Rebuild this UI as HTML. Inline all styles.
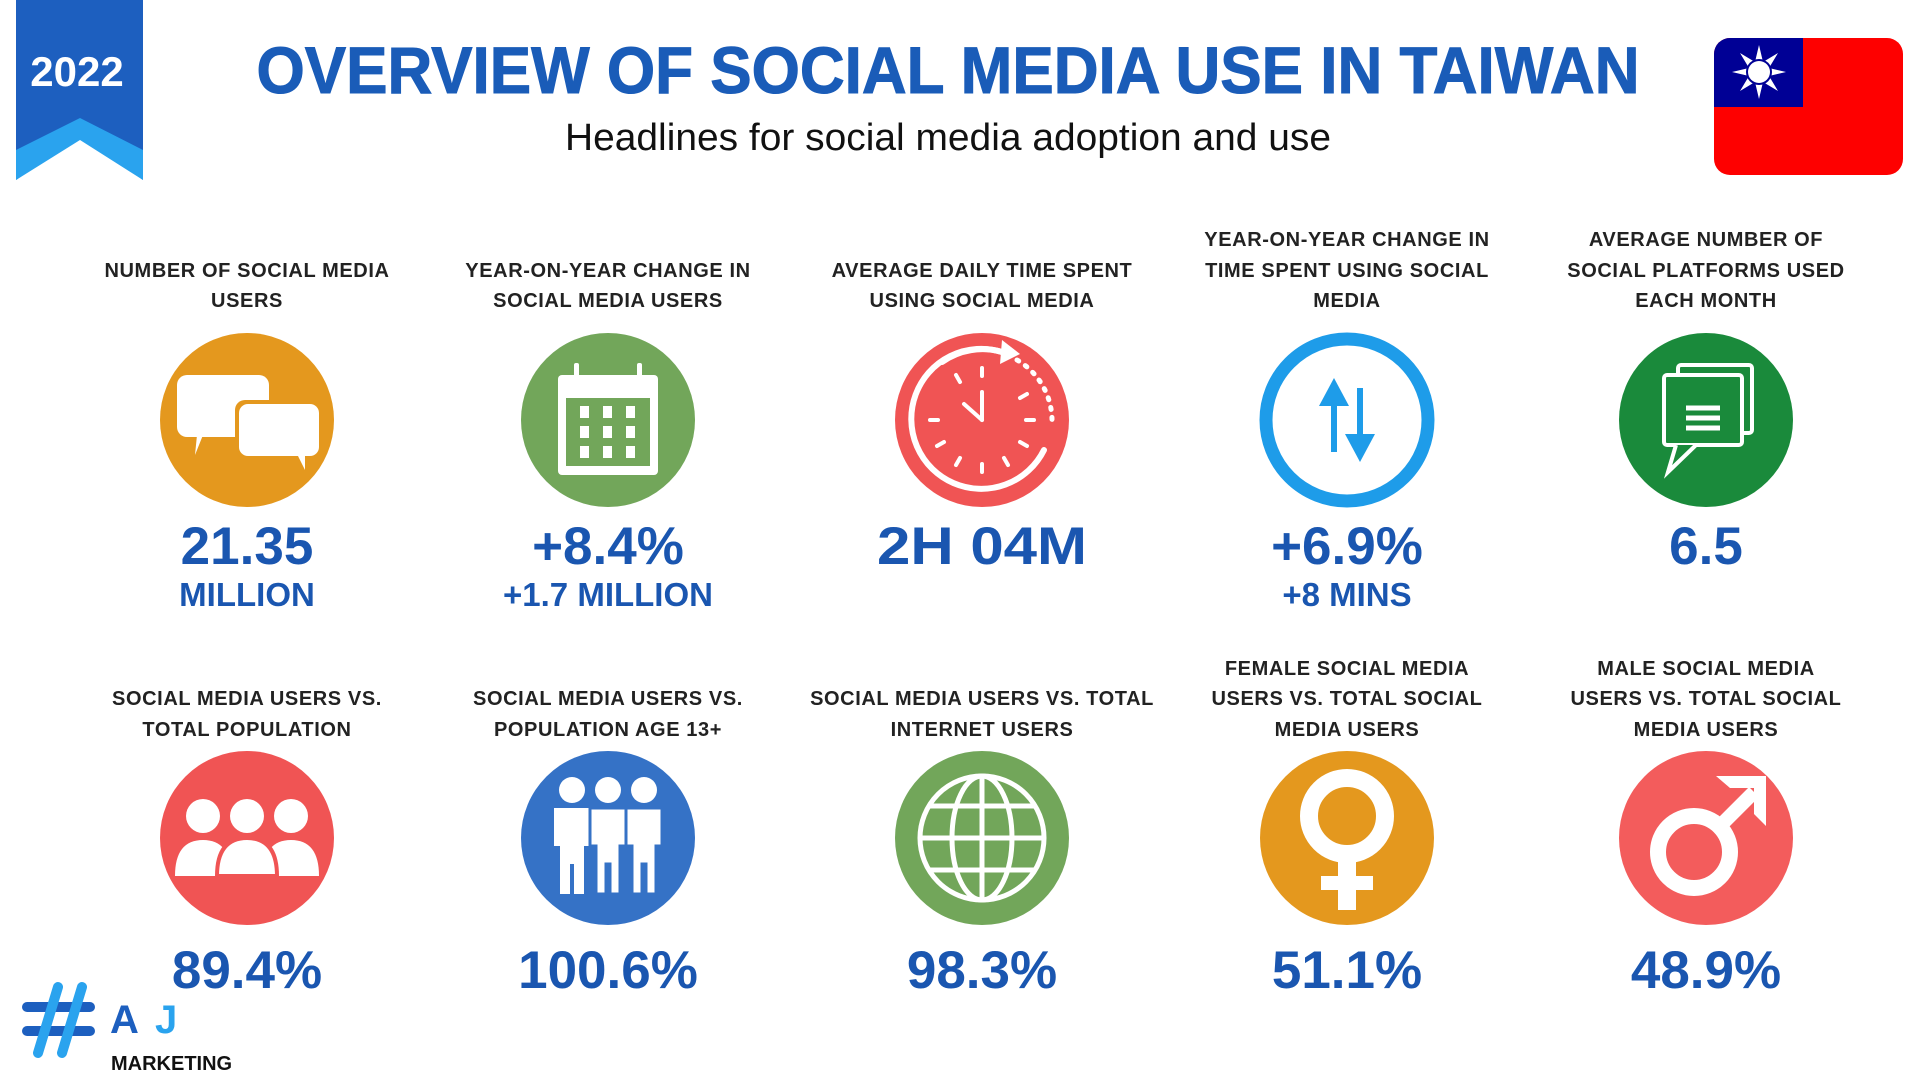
<!DOCTYPE html>
<html><head><meta charset="utf-8"><style>
html,body{margin:0;padding:0;background:#fff;}
svg{display:block;}
text{font-family:"Liberation Sans",sans-serif;}
.lab{font-size:20px;font-weight:bold;fill:#222;text-anchor:middle;letter-spacing:0.6px;}
.val{font-size:53px;font-weight:bold;fill:#1a56b0;text-anchor:middle;}
.sub{font-size:33px;font-weight:bold;fill:#1a56b0;text-anchor:middle;}
</style></head><body>
<svg width="1920" height="1080" viewBox="0 0 1920 1080">
<!-- ribbon -->
<polygon points="16,0 143,0 143,180 80,135 16,180" fill="#1d5fbf"/>
<polygon points="16,150 80,118 143,150 143,180 80,140 16,180" fill="#2aa3ee"/>
<text x="77" y="86" font-size="42" font-weight="bold" fill="#fff" text-anchor="middle">2022</text>
<!-- title -->
<text x="948" y="93" font-size="66" font-weight="bold" fill="#1a5cb8" text-anchor="middle" textLength="1383" lengthAdjust="spacingAndGlyphs" stroke="#1a5cb8" stroke-width="1">OVERVIEW OF SOCIAL MEDIA USE IN TAIWAN</text>
<text x="948" y="150" font-size="38" fill="#111" text-anchor="middle" textLength="766" lengthAdjust="spacingAndGlyphs">Headlines for social media adoption and use</text>
<!-- flag -->
<clipPath id="fc"><rect x="1714" y="38" width="189" height="137" rx="16"/></clipPath>
<g clip-path="url(#fc)">
<rect x="1714" y="38" width="189" height="137" fill="#fe0000"/>
<rect x="1714" y="38" width="89" height="69" fill="#000095"/>
<g transform="translate(1759,72)" fill="#fff">
<polygon points="0,-27 4,-10 19,-19 10,-4 27,0 10,4 19,19 4,10 0,27 -4,10 -19,19 -10,4 -27,0 -10,-4 -19,-19 -4,-10"/>
<circle r="13" fill="#000095"/><circle r="11"/>
</g></g>

<!-- labels row 1 -->
<text class="lab"><tspan x="247" y="277">NUMBER OF SOCIAL MEDIA</tspan><tspan x="247" y="307">USERS</tspan></text>
<text class="lab"><tspan x="608" y="277">YEAR-ON-YEAR CHANGE IN</tspan><tspan x="608" y="307">SOCIAL MEDIA USERS</tspan></text>
<text class="lab"><tspan x="982" y="277">AVERAGE DAILY TIME SPENT</tspan><tspan x="982" y="307">USING SOCIAL MEDIA</tspan></text>
<text class="lab"><tspan x="1347" y="246">YEAR-ON-YEAR CHANGE IN</tspan><tspan x="1347" y="277">TIME SPENT USING SOCIAL</tspan><tspan x="1347" y="307">MEDIA</tspan></text>
<text class="lab"><tspan x="1706" y="246">AVERAGE NUMBER OF</tspan><tspan x="1706" y="277">SOCIAL PLATFORMS USED</tspan><tspan x="1706" y="307">EACH MONTH</tspan></text>

<!-- circles row 1 -->
<circle cx="247" cy="420" r="87" fill="#e4981e"/>
<g transform="translate(247,420)" fill="#fff">
<rect x="-70" y="-45" width="92" height="62" rx="10"/><polygon points="-50,15 -44,15 -52,35"/>
<rect x="-12" y="-20" width="88" height="58" rx="10" fill="#e4981e"/>
<rect x="-8" y="-16" width="80" height="52" rx="9"/><polygon points="50,34 58,34 58,50"/>
</g>
<circle cx="608" cy="420" r="87" fill="#72a65a"/>
<g transform="translate(608,420)" fill="#fff">
<rect x="-50" y="-45" width="100" height="100" rx="4"/>
<rect x="-42" y="-22" width="84" height="68" fill="#72a65a"/>
<rect x="-34" y="-57" width="5" height="18" rx="2"/><rect x="29" y="-57" width="5" height="18" rx="2"/>
<rect x="-28" y="-14" width="9" height="12"/><rect x="-5" y="-14" width="9" height="12"/><rect x="18" y="-14" width="9" height="12"/>
<rect x="-28" y="6" width="9" height="12"/><rect x="-5" y="6" width="9" height="12"/><rect x="18" y="6" width="9" height="12"/>
<rect x="-28" y="26" width="9" height="12"/><rect x="-5" y="26" width="9" height="12"/><rect x="18" y="26" width="9" height="12"/>
</g>
<circle cx="982" cy="420" r="87" fill="#f05454"/>
<g transform="translate(982,420)" stroke="#fff" fill="none" stroke-width="6" stroke-linecap="round">
<path d="M20,-68 A70,70 0 1 0 62,30"/>
<path d="M-40,-58 A70,70 0 0 1 20,-68" />
<polygon points="20,-80 38,-66 18,-56" fill="#fff" stroke="none"/>
<path d="M35,-60 A70,70 0 0 1 70,0" stroke-dasharray="2 8" stroke-width="5"/>
<g stroke-width="4"><line x1="0" y1="-52" x2="0" y2="-44"/><line x1="0" y1="52" x2="0" y2="44"/><line x1="-52" y1="0" x2="-44" y2="0"/><line x1="52" y1="0" x2="44" y2="0"/>
<line x1="-26" y1="-45" x2="-22" y2="-38"/><line x1="26" y1="45" x2="22" y2="38"/><line x1="-45" y1="26" x2="-38" y2="22"/><line x1="45" y1="-26" x2="38" y2="-22"/><line x1="-26" y1="45" x2="-22" y2="38"/><line x1="45" y1="26" x2="38" y2="22"/></g>
<line x1="0" y1="0" x2="0" y2="-28" stroke-width="4"/><line x1="0" y1="0" x2="-18" y2="-16" stroke-width="4"/>
</g>
<circle cx="1347" cy="420" r="81" fill="#fff" stroke="#1e9ce9" stroke-width="13"/>
<g transform="translate(1347,420)" fill="#1e9ce9">
<rect x="-16" y="-30" width="6" height="62"/><polygon points="-28,-14 -13,-42 2,-14"/>
<rect x="10" y="-32" width="6" height="62"/><polygon points="-2,14 13,42 28,14"/>
</g>
<circle cx="1706" cy="420" r="87" fill="#1a8a3b"/>
<g transform="translate(1706,420)" fill="none" stroke="#fff" stroke-width="4">
<rect x="-28" y="-55" width="74" height="68" rx="3"/>
<rect x="-42" y="-45" width="78" height="70" rx="3" fill="#1a8a3b"/>
<path d="M-30,25 L-38,52 L-10,25" fill="#1a8a3b"/>
<g stroke-width="5"><line x1="-20" y1="-12" x2="14" y2="-12"/><line x1="-20" y1="-2" x2="14" y2="-2"/><line x1="-20" y1="8" x2="14" y2="8"/></g>
</g>

<!-- values row 1 -->
<text class="val" x="247" y="564">21.35</text><text class="sub" x="247" y="606">MILLION</text>
<text class="val" x="608" y="564">+8.4%</text><text class="sub" x="608" y="606">+1.7 MILLION</text>
<text class="val" x="982" y="564" textLength="210" lengthAdjust="spacingAndGlyphs">2H 04M</text>
<text class="val" x="1347" y="564">+6.9%</text><text class="sub" x="1347" y="606">+8 MINS</text>
<text class="val" x="1706" y="564">6.5</text>

<!-- labels row 2 -->
<text class="lab"><tspan x="247" y="705">SOCIAL MEDIA USERS VS.</tspan><tspan x="247" y="736">TOTAL POPULATION</tspan></text>
<text class="lab"><tspan x="608" y="705">SOCIAL MEDIA USERS VS.</tspan><tspan x="608" y="736">POPULATION AGE 13+</tspan></text>
<text class="lab"><tspan x="982" y="705">SOCIAL MEDIA USERS VS. TOTAL</tspan><tspan x="982" y="736">INTERNET USERS</tspan></text>
<text class="lab"><tspan x="1347" y="675">FEMALE SOCIAL MEDIA</tspan><tspan x="1347" y="705">USERS VS. TOTAL SOCIAL</tspan><tspan x="1347" y="736">MEDIA USERS</tspan></text>
<text class="lab"><tspan x="1706" y="675">MALE SOCIAL MEDIA</tspan><tspan x="1706" y="705">USERS VS. TOTAL SOCIAL</tspan><tspan x="1706" y="736">MEDIA USERS</tspan></text>

<!-- circles row 2 -->
<circle cx="247" cy="838" r="87" fill="#f05454"/>
<g transform="translate(247,838)" fill="#fff">
<circle cx="-44" cy="-22" r="17"/><circle cx="0" cy="-22" r="17"/><circle cx="44" cy="-22" r="17"/>
<path d="M-72,38 Q-72,2 -44,2 Q-16,2 -16,38Z"/><path d="M72,38 Q72,2 44,2 Q16,2 16,38Z"/>
<path d="M-30,38 Q-30,0 0,0 Q30,0 30,38Z" stroke="#f05454" stroke-width="4"/>
</g>
<circle cx="608" cy="838" r="87" fill="#3572c6"/>
<g transform="translate(608,838)" fill="#fff">
<circle cx="-36" cy="-48" r="13"/><circle cx="0" cy="-48" r="13"/><circle cx="36" cy="-48" r="13"/>
<path d="M-54,-30 h36 v38 h-6 v48 h-10 v-30 h-4 v30 h-10 v-48 h-6Z"/>
<path d="M-18,-30 h36 v38 h-6 v48 h-10 v-30 h-4 v30 h-10 v-48 h-6Z" stroke="#3572c6" stroke-width="3"/>
<path d="M18,-30 h36 v38 h-6 v48 h-10 v-30 h-4 v30 h-10 v-48 h-6Z" stroke="#3572c6" stroke-width="3"/>
</g>
<circle cx="982" cy="838" r="87" fill="#72a65a"/>
<g transform="translate(982,838)" fill="none" stroke="#fff" stroke-width="5">
<circle r="62"/><ellipse rx="30" ry="62"/><line x1="0" y1="-62" x2="0" y2="62"/>
<line x1="-62" y1="0" x2="62" y2="0"/><line x1="-52" y1="-32" x2="52" y2="-32"/><line x1="-52" y1="32" x2="52" y2="32"/>
</g>
<circle cx="1347" cy="838" r="87" fill="#e4981e"/>
<g transform="translate(1347,838)" fill="#fff">
<circle cy="-22" r="38" fill="none" stroke="#fff" stroke-width="18"/>
<rect x="-9" y="20" width="18" height="52"/><rect x="-26" y="38" width="52" height="14"/>
</g>
<circle cx="1706" cy="838" r="87" fill="#f35c5c"/>
<g transform="translate(1706,838)" fill="#fff">
<circle cx="-12" cy="14" r="36" fill="none" stroke="#fff" stroke-width="16"/>
<line x1="12" y1="-10" x2="48" y2="-46" stroke="#fff" stroke-width="14"/>
<polygon points="10,-62 60,-62 60,-12 48,-24 48,-50 24,-50"/>
</g>

<!-- values row 2 -->
<text class="val" x="247" y="988">89.4%</text>
<text class="val" x="608" y="988">100.6%</text>
<text class="val" x="982" y="988">98.3%</text>
<text class="val" x="1347" y="988">51.1%</text>
<text class="val" x="1706" y="988">48.9%</text>

<!-- logo -->
<g stroke-linecap="round" stroke-width="10">
<line x1="27" y1="1007" x2="90" y2="1007" stroke="#1d5fbf"/><line x1="27" y1="1031" x2="90" y2="1031" stroke="#1d5fbf"/>
<line x1="58" y1="987" x2="38" y2="1053" stroke="#2aa3ee"/><line x1="82" y1="987" x2="62" y2="1053" stroke="#2aa3ee"/>
</g>
<text x="110" y="1033" font-size="40" font-weight="bold" fill="#1d5fbf">A</text>
<text x="155" y="1033" font-size="40" font-weight="bold" fill="#2aa3ee">J</text>
<text x="111" y="1070" font-size="20" font-weight="bold" fill="#111">MARKETING</text>
</svg>
</body></html>
